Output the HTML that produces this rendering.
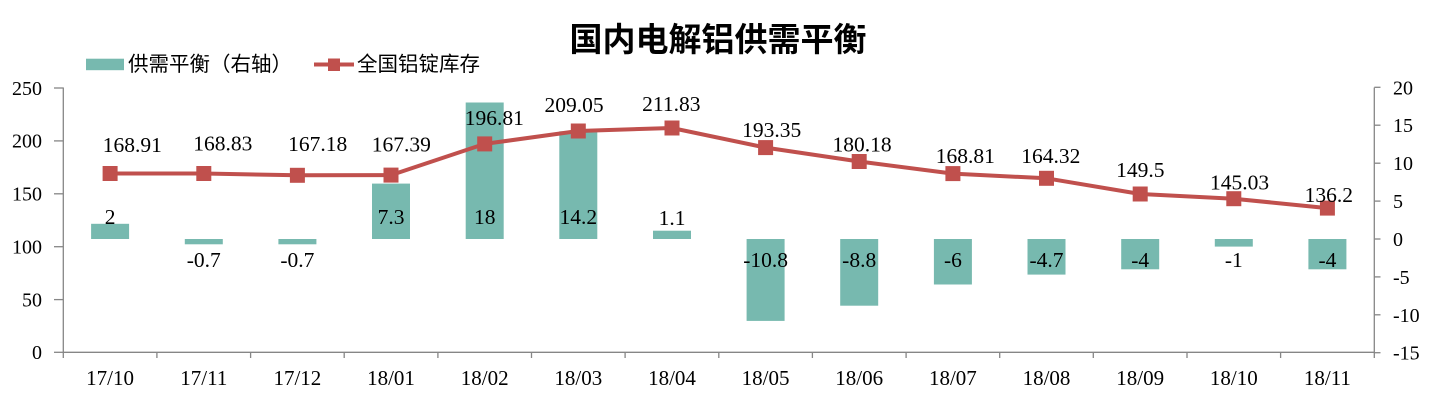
<!DOCTYPE html>
<html>
<head>
<meta charset="utf-8">
<style>
  html, body { margin: 0; padding: 0; background: #ffffff; }
  body { width: 1436px; height: 403px; overflow: hidden; }
  svg { display: block; }
  .num { font-family: "Liberation Serif", "Times New Roman", serif; font-size: 21.5px; fill: #000; }
  .cat { font-family: "Liberation Serif", "Times New Roman", serif; font-size: 21px; fill: #000; }
  .ax { font-family: "Liberation Serif", "Times New Roman", serif; font-size: 20px; fill: #000; }
  .cjk { font-family: "Liberation Sans", "Noto Sans CJK SC", sans-serif; fill: #000; }
</style>
</head>
<body>
<svg width="1436" height="403" viewBox="0 0 1436 403" xmlns="http://www.w3.org/2000/svg">
  <rect x="0" y="0" width="1436" height="403" fill="#ffffff"/>

  <!-- Title -->
  <text x="718" y="51" text-anchor="middle" class="cjk" font-size="33" font-weight="bold">国内电解铝供需平衡</text>

  <!-- Legend -->
  <rect x="86" y="58.7" width="38" height="11.5" fill="#77B9AF"/>
  <text x="128" y="71" class="cjk" font-size="20.5">供需平衡（右轴）</text>
  <line x1="314" y1="64.5" x2="354" y2="64.5" stroke="#C0504D" stroke-width="4"/>
  <rect x="328" y="58.5" width="12" height="12.5" fill="#C0504D"/>
  <text x="357" y="71" class="cjk" font-size="20.5">全国铝锭库存</text>

  <!-- Bars (right axis) -->
  <g fill="#77B9AF">
    <rect x="91.1" y="223.8" width="38" height="15.2"/>
    <rect x="184.8" y="239" width="38" height="5.3"/>
    <rect x="278.4" y="239" width="38" height="5.3"/>
    <rect x="372.0" y="183.6" width="38" height="55.4"/>
    <rect x="465.7" y="102.5" width="38" height="136.5"/>
    <rect x="559.3" y="131.3" width="38" height="107.7"/>
    <rect x="653.0" y="230.7" width="38" height="8.3"/>
    <rect x="746.6" y="239" width="38" height="81.9"/>
    <rect x="840.2" y="239" width="38" height="66.7"/>
    <rect x="933.9" y="239" width="38" height="45.5"/>
    <rect x="1027.5" y="239" width="38" height="35.6"/>
    <rect x="1121.2" y="239" width="38" height="30.3"/>
    <rect x="1214.8" y="239" width="38" height="7.6"/>
    <rect x="1308.4" y="239" width="38" height="30.3"/>
  </g>

  <!-- Axes -->
  <g stroke="#868686" stroke-width="1.3" fill="none">
    <line x1="63.3" y1="87.5" x2="63.3" y2="352.5"/>
    <line x1="1374.3" y1="87.5" x2="1374.3" y2="352.5"/>
    <line x1="63.3" y1="352.3" x2="1374.3" y2="352.3"/>
    <line x1="54" y1="88" x2="63.3" y2="88"/>
    <line x1="54" y1="140.9" x2="63.3" y2="140.9"/>
    <line x1="54" y1="193.8" x2="63.3" y2="193.8"/>
    <line x1="54" y1="246.7" x2="63.3" y2="246.7"/>
    <line x1="54" y1="299.6" x2="63.3" y2="299.6"/>
    <line x1="54" y1="352.3" x2="63.3" y2="352.3"/>
    <line x1="1374.3" y1="87.3" x2="1380.5" y2="87.3"/>
    <line x1="1374.3" y1="125.2" x2="1380.5" y2="125.2"/>
    <line x1="1374.3" y1="163.2" x2="1380.5" y2="163.2"/>
    <line x1="1374.3" y1="201.1" x2="1380.5" y2="201.1"/>
    <line x1="1374.3" y1="239" x2="1380.5" y2="239"/>
    <line x1="1374.3" y1="276.9" x2="1380.5" y2="276.9"/>
    <line x1="1374.3" y1="314.8" x2="1380.5" y2="314.8"/>
    <line x1="1374.3" y1="352.7" x2="1380.5" y2="352.7"/>
    <line x1="63.3" y1="352.3" x2="63.3" y2="358"/>
    <line x1="156.9" y1="352.3" x2="156.9" y2="358"/>
    <line x1="250.6" y1="352.3" x2="250.6" y2="358"/>
    <line x1="344.2" y1="352.3" x2="344.2" y2="358"/>
    <line x1="437.9" y1="352.3" x2="437.9" y2="358"/>
    <line x1="531.5" y1="352.3" x2="531.5" y2="358"/>
    <line x1="625.1" y1="352.3" x2="625.1" y2="358"/>
    <line x1="718.8" y1="352.3" x2="718.8" y2="358"/>
    <line x1="812.4" y1="352.3" x2="812.4" y2="358"/>
    <line x1="906.1" y1="352.3" x2="906.1" y2="358"/>
    <line x1="999.7" y1="352.3" x2="999.7" y2="358"/>
    <line x1="1093.3" y1="352.3" x2="1093.3" y2="358"/>
    <line x1="1187.0" y1="352.3" x2="1187.0" y2="358"/>
    <line x1="1280.6" y1="352.3" x2="1280.6" y2="358"/>
    <line x1="1374.3" y1="352.3" x2="1374.3" y2="358"/>
  </g>

  <!-- Left axis labels -->
  <g class="ax" text-anchor="end">
    <text x="42" y="94.8">250</text>
    <text x="42" y="147.7">200</text>
    <text x="42" y="200.6">150</text>
    <text x="42" y="253.5">100</text>
    <text x="42" y="306.4">50</text>
    <text x="42" y="359.1">0</text>
  </g>

  <!-- Right axis labels -->
  <g class="ax" text-anchor="start">
    <text x="1393" y="94.3">20</text>
    <text x="1393" y="132.2">15</text>
    <text x="1393" y="170.2">10</text>
    <text x="1393" y="208.1">5</text>
    <text x="1393" y="246">0</text>
    <text x="1393" y="283.9">-5</text>
    <text x="1393" y="321.8">-10</text>
    <text x="1393" y="359.7">-15</text>
  </g>

  <!-- Category labels -->
  <g class="cat" text-anchor="middle">
    <text x="110.1" y="385">17/10</text>
    <text x="203.8" y="385">17/11</text>
    <text x="297.4" y="385">17/12</text>
    <text x="391.0" y="385">18/01</text>
    <text x="484.7" y="385">18/02</text>
    <text x="578.3" y="385">18/03</text>
    <text x="672.0" y="385">18/04</text>
    <text x="765.6" y="385">18/05</text>
    <text x="859.2" y="385">18/06</text>
    <text x="952.9" y="385">18/07</text>
    <text x="1046.5" y="385">18/08</text>
    <text x="1140.2" y="385">18/09</text>
    <text x="1233.8" y="385">18/10</text>
    <text x="1327.4" y="385">18/11</text>
  </g>

  <!-- Bar labels -->
  <g class="num" text-anchor="middle">
    <text x="110.1" y="224">2</text>
    <text x="203.8" y="266.8">-0.7</text>
    <text x="297.4" y="266.8">-0.7</text>
    <text x="391.0" y="224">7.3</text>
    <text x="484.7" y="224">18</text>
    <text x="578.3" y="224">14.2</text>
    <text x="672.0" y="225">1.1</text>
    <text x="765.6" y="266.8">-10.8</text>
    <text x="859.2" y="266.8">-8.8</text>
    <text x="952.9" y="266.8">-6</text>
    <text x="1046.5" y="266.8">-4.7</text>
    <text x="1140.2" y="266.8">-4</text>
    <text x="1233.8" y="266.8">-1</text>
    <text x="1327.4" y="266.8">-4</text>
  </g>

  <!-- Line series -->
  <polyline fill="none" stroke="#C0504D" stroke-width="4" stroke-linejoin="round"
    points="110.1,173.5 203.8,173.5 297.4,175.3 391.0,175.1 484.7,143.9 578.3,131.0 672.0,128.0 765.6,147.6 859.2,161.5 952.9,173.6 1046.5,178.3 1140.2,194.0 1233.8,198.7 1327.4,208.1"/>
  <g fill="#C0504D">
    <rect x="102.6" y="166" width="15" height="15"/>
    <rect x="196.3" y="166" width="15" height="15"/>
    <rect x="289.9" y="167.8" width="15" height="15"/>
    <rect x="383.5" y="167.6" width="15" height="15"/>
    <rect x="477.2" y="136.4" width="15" height="15"/>
    <rect x="570.8" y="123.5" width="15" height="15"/>
    <rect x="664.5" y="120.5" width="15" height="15"/>
    <rect x="758.1" y="140.1" width="15" height="15"/>
    <rect x="851.7" y="154.0" width="15" height="15"/>
    <rect x="945.4" y="166.1" width="15" height="15"/>
    <rect x="1039.0" y="170.8" width="15" height="15"/>
    <rect x="1132.7" y="186.5" width="15" height="15"/>
    <rect x="1226.3" y="191.2" width="15" height="15"/>
    <rect x="1319.9" y="200.6" width="15" height="15"/>
  </g>

  <!-- Line labels -->
  <g class="num" text-anchor="middle">
    <text x="132.3" y="152">168.91</text>
    <text x="222.8" y="150.5">168.83</text>
    <text x="317.7" y="151">167.18</text>
    <text x="401.3" y="151.5">167.39</text>
    <text x="494.3" y="125">196.81</text>
    <text x="574" y="112">209.05</text>
    <text x="671.3" y="111">211.83</text>
    <text x="771.7" y="137">193.35</text>
    <text x="862" y="151.3">180.18</text>
    <text x="965.3" y="163">168.81</text>
    <text x="1050.8" y="163">164.32</text>
    <text x="1140.3" y="177">149.5</text>
    <text x="1239.5" y="189.6">145.03</text>
    <text x="1328.8" y="202">136.2</text>
  </g>
</svg>
</body>
</html>
